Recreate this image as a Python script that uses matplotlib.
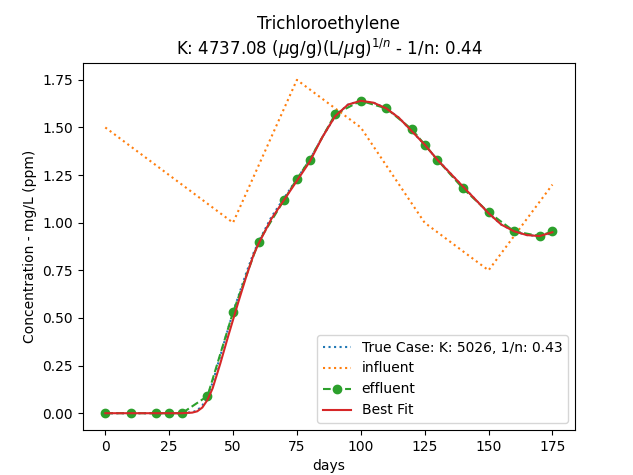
import matplotlib.pyplot as plt
import numpy as np

# influent concentration (piecewise)
influent_days = [0, 50, 75, 100, 125, 150, 175]
influent_conc = [1.50, 1.00, 1.75, 1.50, 1.00, 0.75, 1.20]

# measured effluent
effluent_days = [0, 10, 20, 25, 30, 40, 50, 60, 70, 75, 80, 90, 100,
                 110, 120, 125, 130, 140, 150, 160, 170, 175]
effluent_conc = [0.0, 0.0, 0.0, 0.0, 0.0, 0.09, 0.53, 0.90, 1.12, 1.23, 1.33,
                 1.57, 1.64, 1.60, 1.49, 1.41, 1.33, 1.18, 1.055, 0.955, 0.93, 0.955]

# model curves
model_days = [0, 10, 20, 30, 34, 36, 38, 40, 42, 45, 48, 50, 52, 55, 58, 60,
              65, 70, 75, 80, 85, 90, 95, 100, 105, 110, 115, 120, 125, 130,
              135, 140, 145, 150, 155, 160, 165, 170, 175]
true_conc = [0.0, 0.0, 0.0, 0.0, 0.005, 0.015, 0.04, 0.09, 0.16, 0.30, 0.44,
             0.53, 0.61, 0.73, 0.84, 0.90, 1.03, 1.13, 1.23, 1.33, 1.45, 1.56,
             1.62, 1.64, 1.63, 1.60, 1.55, 1.48, 1.41, 1.33, 1.26, 1.19, 1.12,
             1.05, 0.99, 0.955, 0.935, 0.93, 0.945]
fit_conc = [0.0, 0.0, 0.0, 0.0, 0.003, 0.01, 0.03, 0.07, 0.13, 0.26, 0.40,
            0.49, 0.58, 0.71, 0.83, 0.89, 1.02, 1.12, 1.22, 1.32, 1.45, 1.56,
            1.62, 1.64, 1.63, 1.60, 1.55, 1.48, 1.41, 1.33, 1.26, 1.19, 1.12,
            1.05, 0.99, 0.955, 0.935, 0.93, 0.95]

fig = plt.figure(figsize=(6.33, 4.75), dpi=100)
ax = fig.add_axes([0.131, 0.095, 0.777, 0.772])

ax.plot(model_days, true_conc, ':', color='C0', label='True Case: K: 5026, 1/n: 0.43')
ax.plot(influent_days, influent_conc, ':', color='C1', label='influent')
ax.plot(effluent_days, effluent_conc, '--o', color='C2', label='effluent')
ax.plot(model_days, fit_conc, '-', color='C3', label='Best Fit')

ax.set_title('Trichloroethylene\n' + r'K: 4737.08 ($\mu$g/g)(L/$\mu$g)$^{1/n}$ - 1/n: 0.44')
ax.set_xlabel('days')
ax.set_ylabel('Concentration - mg/L (ppm)')
ax.set_xticks(np.arange(0, 176, 25))
ax.set_yticks(np.arange(0, 1.76, 0.25))
ax.legend(loc='lower right')

fig.savefig('out.png')
